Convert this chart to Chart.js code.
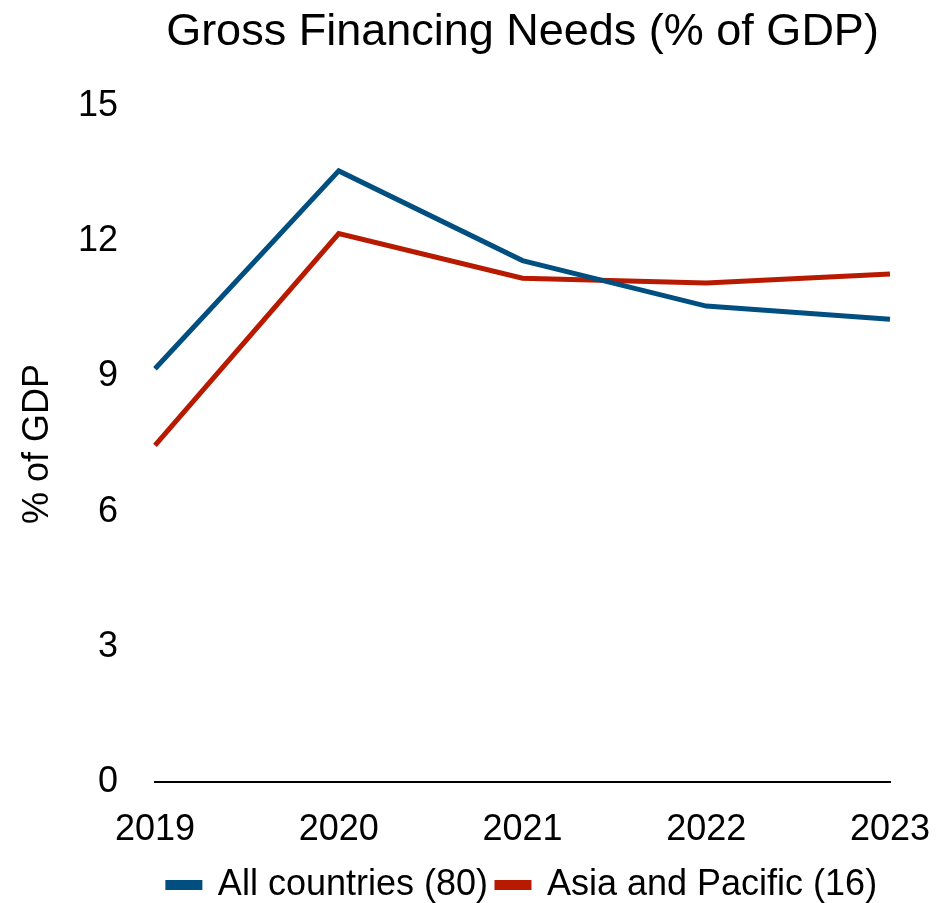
<!DOCTYPE html>
<html>
<head>
<meta charset="utf-8">
<script src="https://cdn.jsdelivr.net/npm/chart.js@4/dist/chart.umd.min.js"></script>
<style>
  html, body { margin: 0; padding: 0; background: #fff; }
  #wrap { width: 950px; height: 903px; }
</style>
</head>
<body>
<div id="wrap"><canvas id="gfn"></canvas></div>
<script>
const years = ['2019', '2020', '2021', '2022', '2023'];
const allCountries = [9.17, 13.56, 11.57, 10.56, 10.27];
const asiaPacific = [7.47, 12.17, 11.18, 11.07, 11.27];
const yTicks = [0, 3, 6, 9, 12, 15];

const FONT = '"Liberation Sans", Arial, sans-serif';
const BLUE = '#004f80';
const RED = '#b81a00';

new Chart(document.getElementById('gfn'), {
  type: 'line',
  data: {
    labels: years,
    datasets: [
      {
        label: 'All countries (80)',
        data: allCountries,
        borderColor: BLUE,
        backgroundColor: BLUE,
        borderWidth: 5,
        pointRadius: 0,
        tension: 0,
        fill: false
      },
      {
        label: 'Asia and Pacific (16)',
        data: asiaPacific,
        borderColor: RED,
        backgroundColor: RED,
        borderWidth: 5,
        pointRadius: 0,
        tension: 0,
        fill: false
      }
    ]
  },
  options: {
    responsive: true,
    maintainAspectRatio: false,
    animation: false,
    layout: { padding: { top: 4, right: 13, bottom: -10, left: 16 } },
    plugins: {
      title: {
        display: true,
        text: 'Gross Financing Needs (% of GDP)',
        fullSize: false,
        color: '#000',
        font: { family: FONT, size: 45, weight: 'normal' },
        padding: { top: 2, bottom: 46 }
      },
      legend: {
        position: 'bottom',
        fullSize: false,
        labels: {
          color: '#000',
          font: { family: FONT, size: 36 },
          boxWidth: 32,
          boxHeight: 5,
          padding: 9
        }
      },
      tooltip: { enabled: false }
    },
    scales: {
      x: {
        offset: false,
        grid: { display: false, drawTicks: false },
        border: { display: true, color: '#000', width: 2 },
        ticks: {
          color: '#000',
          font: { family: FONT, size: 36 },
          padding: 26,
          maxRotation: 0
        },
        // fixed band height between the axis line and the legend,
        // and only half of the last year label hanging past the plot
        afterFit: axis => {
          axis.height = 76;
          axis.paddingRight = 60;
        }
      },
      y: {
        min: 0,
        max: 15,
        afterBuildTicks: axis => { axis.ticks = yTicks.map(v => ({ value: v })); },
        afterFit: axis => { axis.width = 139; },
        grid: { display: false, drawTicks: false },
        border: { display: false },
        ticks: {
          color: '#000',
          font: { family: FONT, size: 36 },
          padding: 37
        },
        title: {
          display: true,
          text: '% of GDP',
          color: '#000',
          font: { family: FONT, size: 36 },
          padding: { top: 0, bottom: 0 }
        }
      }
    }
  }
});
</script>
</body>
</html>
